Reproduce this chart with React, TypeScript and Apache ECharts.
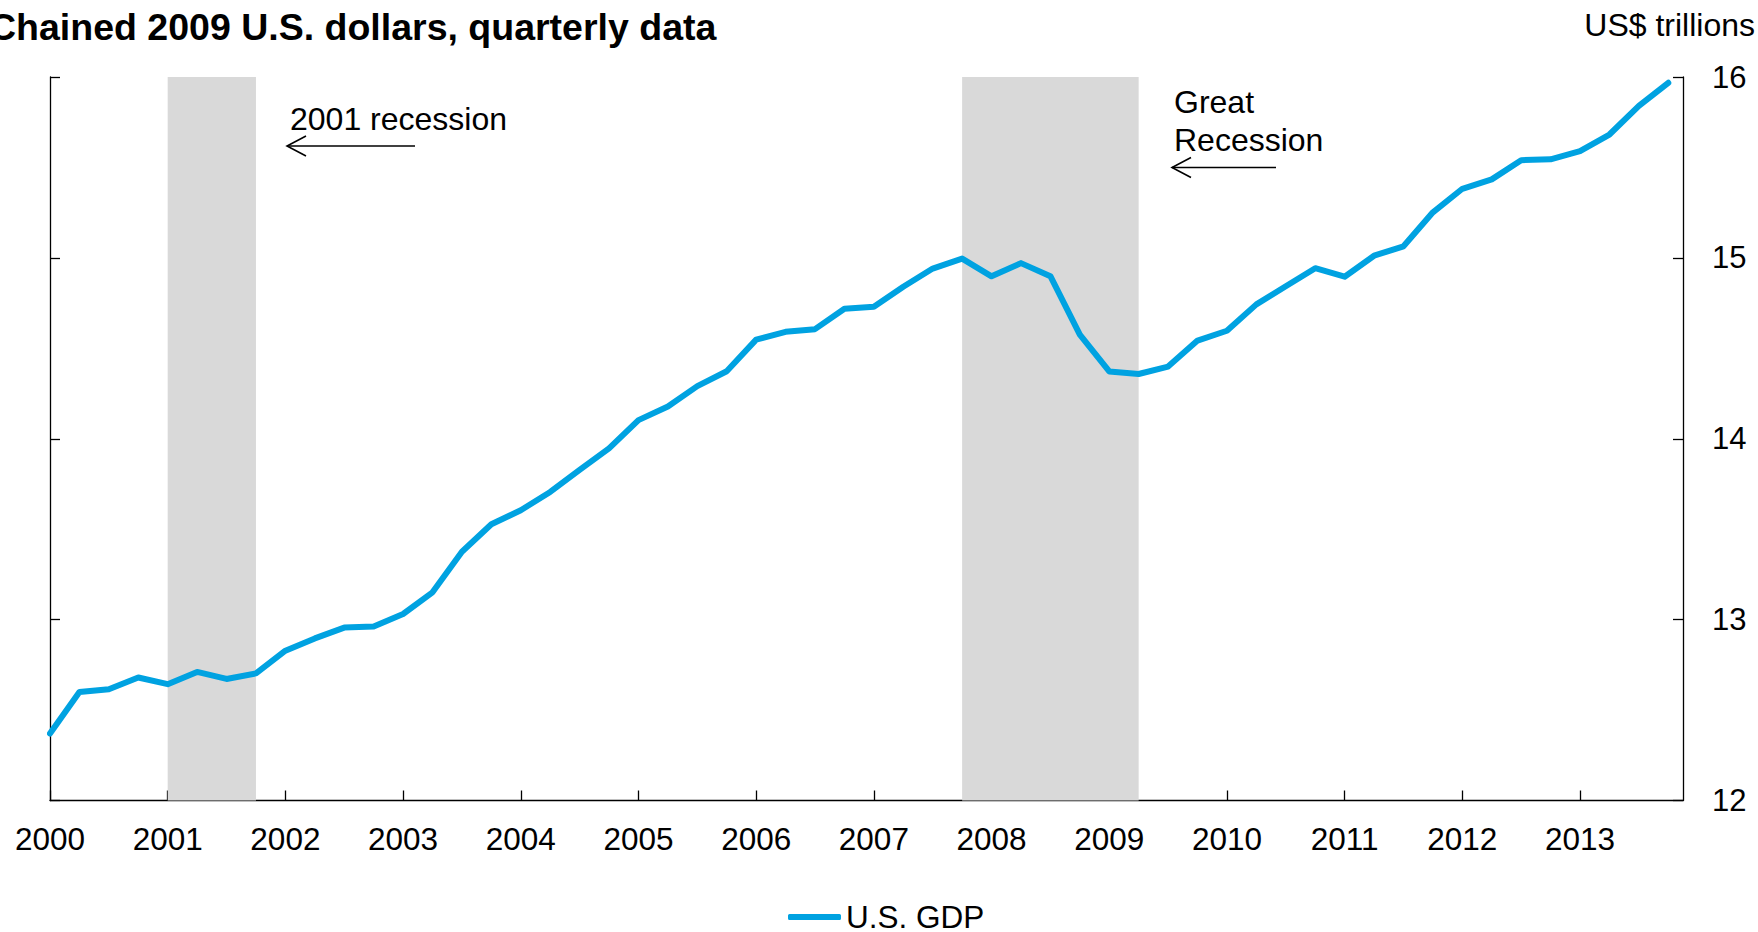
import React, { useEffect, useRef } from "react";
import * as echarts from "echarts";

// Quarterly data, 2000Q1 .. 2013Q4 (index 0..55)
const startYear = 2000;
const quarterIndex: number[] = Array.from({ length: 56 }, (_, i) => i);
const gdp: number[] = [
  12.37, 12.60, 12.615, 12.68, 12.643, 12.711, 12.672, 12.703,
  12.828, 12.896, 12.956, 12.962, 13.031, 13.151, 13.375, 13.527,
  13.605, 13.706, 13.828, 13.947, 14.103, 14.178, 14.291, 14.373,
  14.548, 14.591, 14.606, 14.719, 14.73, 14.84, 14.941, 14.996,
  14.898, 14.971, 14.899, 14.576, 14.372, 14.358, 14.399, 14.543,
  14.597, 14.743, 14.843, 14.943, 14.896, 15.012, 15.064, 15.252,
  15.382, 15.434, 15.54, 15.545, 15.59, 15.682, 15.84, 15.968,
];
const recessionStart: number[] = [4, 31];
const recessionEnd: number[] = [7, 37];
const yTicks: number[] = [12, 13, 14, 15, 16];

const FONT = "'Liberation Sans', Arial, sans-serif";
const LINE_COLOR = "#00a2e1";

export default function App() {
  const ref = useRef<HTMLDivElement>(null);
  useEffect(() => {
    if (!ref.current) return;
    const chart = echarts.init(ref.current, undefined, { renderer: "svg" });
    const axisLine = { show: true, lineStyle: { color: "#000", width: 1.3 } };
    const axisTick = { show: true, inside: true, length: 10, lineStyle: { color: "#000", width: 1.3 } };
    const arrowHead = (tipX: number, y: number) => ({
      type: "polyline",
      shape: { points: [[tipX + 19, y - 10], [tipX, y], [tipX + 19, y + 10]] },
      style: { stroke: "#000", lineWidth: 1.6, fill: null },
    });
    chart.setOption({
      animation: false,
      backgroundColor: "#fff",
      textStyle: { fontFamily: FONT },
      grid: { left: 50, right: 75, top: 77, bottom: 131.5, containLabel: false },
      xAxis: {
        type: "value",
        min: 0,
        max: 55.5,
        interval: 4,
        axisLine,
        axisTick,
        splitLine: { show: false },
        axisLabel: {
          fontFamily: FONT,
          fontSize: 31.5,
          lineHeight: 31,
          color: "#000",
          margin: 22.5,
          showMaxLabel: false,
          formatter: (v: number) => (v % 4 === 0 ? String(startYear + v / 4) : ""),
        },
      },
      yAxis: [
        {
          type: "value",
          position: "left",
          min: yTicks[0],
          max: yTicks[yTicks.length - 1],
          interval: 1,
          axisLine,
          axisTick,
          axisLabel: { show: false },
          splitLine: { show: false },
        },
        {
          type: "value",
          position: "right",
          min: yTicks[0],
          max: yTicks[yTicks.length - 1],
          interval: 1,
          axisLine,
          axisTick,
          splitLine: { show: false },
          axisLabel: { fontFamily: FONT, fontSize: 31, color: "#000", margin: 29 },
        },
      ],
      legend: {
        show: true,
        left: 788,
        top: 901,
        padding: 0,
        itemWidth: 53,
        itemHeight: 6,
        itemGap: 10,
        icon: "roundRect",
        textStyle: { fontFamily: FONT, fontSize: 31.5, lineHeight: 32, color: "#000" },
        data: [{ name: "U.S. GDP", itemStyle: { color: LINE_COLOR } }],
      },
      series: [
        {
          name: "U.S. GDP",
          type: "line",
          yAxisIndex: 1,
          symbol: "none",
          data: gdp.map((v, i) => [quarterIndex[i], v]),
          lineStyle: { color: LINE_COLOR, width: 6, cap: "round", join: "round" },
          itemStyle: { color: LINE_COLOR },
          z: 3,
          markArea: {
            silent: true,
            itemStyle: { color: "#d9d9d9" },
            data: recessionStart.map((s, k) => [{ xAxis: s }, { xAxis: recessionEnd[k] }]),
          },
        },
      ],
      graphic: [
        {
          type: "text",
          x: -11,
          y: 27,
          style: {
            text: "Chained 2009 U.S. dollars, quarterly data",
            font: `bold 37.5px ${FONT}`,
            fill: "#000",
            align: "left",
            verticalAlign: "middle",
          },
        },
        {
          type: "text",
          x: 1755,
          y: 25,
          style: { text: "US$ trillions", font: `32px ${FONT}`, fill: "#000", align: "right", verticalAlign: "middle" },
        },
        {
          type: "text",
          x: 290,
          y: 119,
          style: { text: "2001 recession", font: `32px ${FONT}`, fill: "#000", align: "left", verticalAlign: "middle" },
        },
        { type: "line", shape: { x1: 287, y1: 146, x2: 415, y2: 146 }, style: { stroke: "#000", lineWidth: 1.6 } },
        arrowHead(287, 146),
        {
          type: "text",
          x: 1174,
          y: 102,
          style: { text: "Great", font: `32px ${FONT}`, fill: "#000", align: "left", verticalAlign: "middle" },
        },
        {
          type: "text",
          x: 1174,
          y: 140,
          style: { text: "Recession", font: `32px ${FONT}`, fill: "#000", align: "left", verticalAlign: "middle" },
        },
        { type: "line", shape: { x1: 1172, y1: 167.5, x2: 1276, y2: 167.5 }, style: { stroke: "#000", lineWidth: 1.6 } },
        arrowHead(1172, 167.5),
      ],
    });
    return () => chart.dispose();
  }, []);
  return (
    <div
      ref={ref}
      style={{ position: "fixed", left: 0, top: 0, width: 1758, height: 932, background: "#fff" }}
    />
  );
}
